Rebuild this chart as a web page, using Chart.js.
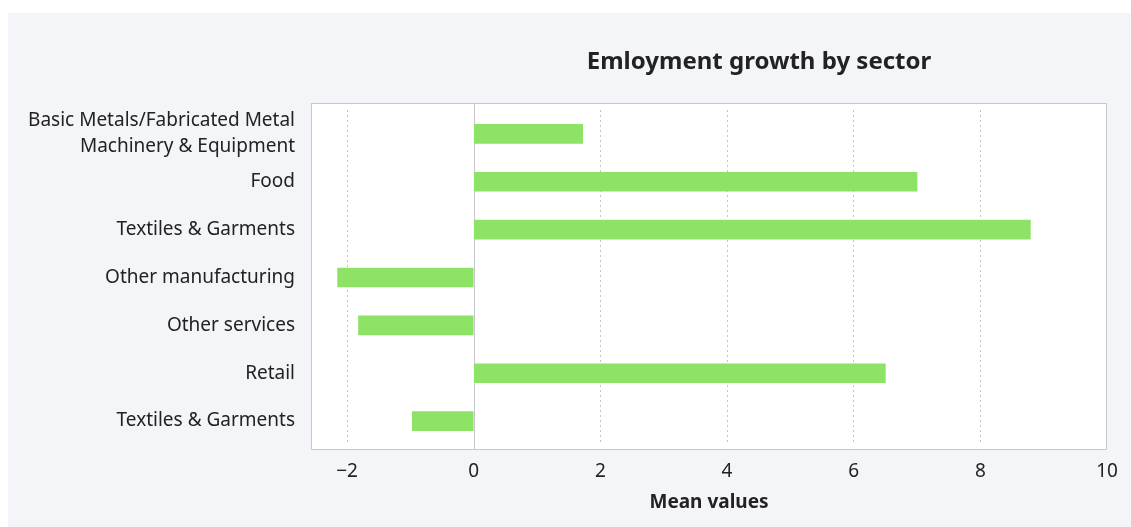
<!DOCTYPE html>
<html>
<head>
<meta charset="utf-8">
<script src="https://cdn.jsdelivr.net/npm/chart.js@4.4.1/dist/chart.umd.min.js"></script>
<style>
  html, body { margin: 0; padding: 0; background: #ffffff; }
  #panel {
    position: absolute; left: 8px; top: 13px;
    width: 1123px; height: 514px;
    background: #f4f5f9;
  }
</style>
</head>
<body>
<div id="panel"><canvas id="barChart" width="1123" height="514"></canvas></div>
<script>
// sectors, top to bottom
const sectors = [
  ['Basic Metals/Fabricated Metal', 'Machinery & Equipment'],
  'Food',
  'Textiles & Garments',
  'Other manufacturing',
  'Other services',
  'Retail',
  'Textiles & Garments'
];
// mean employment growth
const meanGrowth = [1.72, 7.0, 8.79, -2.15, -1.82, 6.5, -0.97];
const xTicks = [-2, 0, 2, 4, 6, 8, 10];

const chartTitle = 'Emloyment growth by sector';
const axisTitle = 'Mean values';

// the frame sits a little outside the category band
const PAD_TOP = 7;
const PAD_BOTTOM = 4;

// white plot box, frame, solid zero line and the title
const framePlugin = {
  id: 'frame',
  beforeDraw(chart) {
    const { ctx, chartArea: a } = chart;
    ctx.save();
    ctx.fillStyle = '#ffffff';
    ctx.fillRect(a.left, a.top - PAD_TOP, a.right - a.left, a.bottom - a.top + PAD_TOP + PAD_BOTTOM);
    ctx.restore();
  },
  beforeDatasetsDraw(chart) {
    const { ctx, chartArea: a, scales } = chart;
    const x0 = Math.round(scales.x.getPixelForValue(0)) + 0.5;
    ctx.save();
    ctx.strokeStyle = '#c8c8c8';
    ctx.lineWidth = 1;
    ctx.beginPath();
    ctx.moveTo(x0, a.top - PAD_TOP);
    ctx.lineTo(x0, a.bottom + PAD_BOTTOM);
    ctx.stroke();
    ctx.restore();
  },
  afterDraw(chart) {
    const { ctx, chartArea: a } = chart;
    ctx.save();
    ctx.strokeStyle = '#c8c8c8';
    ctx.lineWidth = 1;
    ctx.strokeRect(Math.round(a.left) + 0.5, Math.round(a.top - PAD_TOP) + 0.5,
                   Math.round(a.right - a.left) - 1, Math.round(a.bottom - a.top + PAD_TOP + PAD_BOTTOM));
    ctx.fillStyle = '#222222';
    ctx.font = 'bold 24px "Noto Sans"';
    ctx.textAlign = 'center';
    ctx.textBaseline = 'middle';
    ctx.fillText(chartTitle, (a.left + a.right) / 2 + 50, 49);
    ctx.restore();
  }
};

const ctx = document.getElementById('barChart');
new Chart(ctx, {
  type: 'bar',
  data: {
    labels: sectors,
    datasets: [{
      data: meanGrowth,
      backgroundColor: '#8ee266',
      borderWidth: 0,
      barThickness: 19
    }]
  },
  options: {
    indexAxis: 'y',
    responsive: false,
    animation: false,
    layout: { padding: { top: 97, right: 24, left: 0, bottom: 0 } },
    plugins: {
      legend: { display: false },
      tooltip: { enabled: false }
    },
    scales: {
      x: {
        min: -2.57,
        max: 10,
        afterBuildTicks: (axis) => {
          axis.ticks = xTicks.map(v => ({ value: v }));
        },
        afterFit: (axis) => {
          axis.height = 82;
          axis.paddingLeft = 0;
          axis.paddingRight = 0;
        },
        grid: {
          color: (c) => (c.tick && (c.tick.value === 0 || c.tick.value === 10)) ? 'rgba(0,0,0,0)' : '#c4c4c4',
          drawTicks: false
        },
        border: { display: false, dash: [2, 3] },
        ticks: {
          padding: 15,
          color: '#222222',
          font: { family: 'Noto Sans', size: 19 },
          callback: (v) => String(v).replace('-', '\u2212')
        },
        title: {
          display: true,
          text: axisTitle,
          color: '#222222',
          font: { family: 'Noto Sans', size: 19, weight: 'bold' },
          padding: { top: 0, bottom: 13 }
        }
      },
      y: {
        afterFit: (axis) => { axis.width = 303; },
        grid: { display: false, drawTicks: false },
        border: { display: false },
        ticks: {
          autoSkip: false,
          padding: 16,
          color: '#222222',
          font: { family: 'Noto Sans', size: 19, lineHeight: 1.37 }
        }
      }
    }
  },
  plugins: [framePlugin]
});
</script>
</body>
</html>
